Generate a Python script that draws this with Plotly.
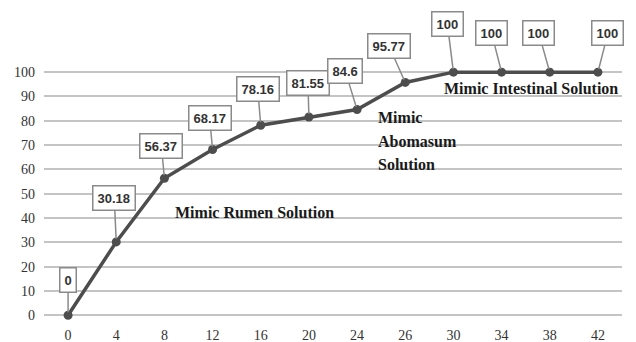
import plotly.graph_objects as go

hours = ["0", "4", "8", "12", "16", "20", "24", "26", "30", "34", "38", "42"]
release = [0, 30.18, 56.37, 68.17, 78.16, 81.55, 84.6, 95.77, 100, 100, 100, 100]
labels = ["0", "30.18", "56.37", "68.17", "78.16", "81.55", "84.6", "95.77", "100", "100", "100", "100"]
# callout offsets (pixels) from each point
callout_dx = [0, -2, -3, -3, -3, -1, -12, -16, -6, -10, -11, 10]
callout_dy = [-35, -44, -32, -32, -36, -34, -39, -36, -48, -39, -39, -39]

idx = list(range(len(hours)))

fig = go.Figure()
fig.add_trace(go.Scatter(
    x=idx, y=release, mode="lines+markers",
    line=dict(color="#4d4d4d", width=3.5),
    marker=dict(color="#4d4d4d", size=9),
    cliponaxis=False, showlegend=False,
))

annotations = []
for i, (v, t) in enumerate(zip(release, labels)):
    annotations.append(dict(
        x=i, y=v, xref="x", yref="y", text="<b>" + t + "</b>",
        showarrow=True, ax=callout_dx[i], ay=callout_dy[i],
        arrowhead=0, arrowwidth=1.5, arrowcolor="#8a8a8a", standoff=3,
        bordercolor="#8a8a8a", borderwidth=1.5, borderpad=4, bgcolor="white",
        font=dict(family="Liberation Sans", size=13, color="#333333"),
    ))

serif = dict(family="Liberation Serif", size=16, color="#1a1a1a")
annotations.append(dict(x=3.86, y=42.4, xref="x", yref="y", text="<b>Mimic Rumen Solution</b>",
                        showarrow=False, font=serif))
for txt, yy in [("Mimic", 81.3), ("Abomasum", 71.6), ("Solution", 62.0)]:
    annotations.append(dict(x=6.39, y=yy, xref="x", yref="y", text="<b>" + txt + "</b>",
                            showarrow=False, xanchor="left", font=serif))
annotations.append(dict(x=9.61, y=93.4, xref="x", yref="y", text="<b>Mimic Intestinal Solution</b>",
                        showarrow=False, font=serif))

fig.update_layout(
    width=636, height=342,
    margin=dict(l=44, r=14, t=60, b=17),
    paper_bgcolor="white", plot_bgcolor="white",
    annotations=annotations,
    xaxis=dict(range=[-0.5, 11.5], tickvals=idx, ticktext=hours, showgrid=False,
               zeroline=False, showline=False, ticks="", automargin=False,
               tickfont=dict(family="Liberation Serif", size=14, color="#333333")),
    yaxis=dict(range=[-4, 105], tickvals=list(range(0, 101, 10)), showgrid=True,
               gridcolor="#c4c4c4", gridwidth=2, zeroline=False, showline=False, ticks="",
               ticklabelstandoff=8, automargin=False,
               tickfont=dict(family="Liberation Serif", size=14, color="#333333")),
)

fig.write_html("out.html")
